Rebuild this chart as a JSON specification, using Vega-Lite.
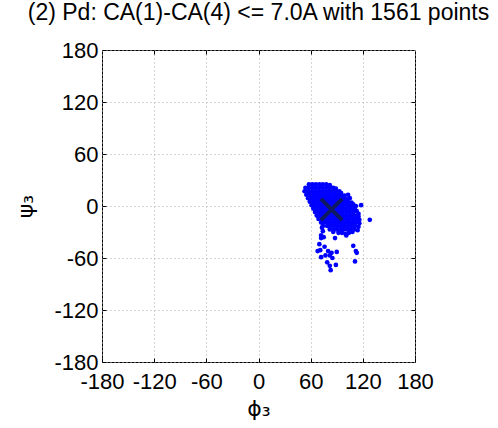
{
  "$schema": "https://vega.github.io/schema/vega-lite/v6.json",
  "width": 313,
  "height": 312,
  "autosize": "none",
  "padding": {"left": 102, "top": 50, "right": 83, "bottom": 66},
  "title": {
    "text": "(2) Pd: CA(1)-CA(4) <= 7.0A with 1561 points",
    "font": "Liberation Sans",
    "fontSize": 23,
    "fontWeight": "normal",
    "color": "black",
    "anchor": "middle",
    "baseline": "alphabetic",
    "offset": -4
  },
  "config": {
    "view": {"stroke": "black", "strokeWidth": 1},
    "font": "Liberation Sans",
    "axis": {
      "domain": false,
      "grid": true,
      "gridColor": "#aaaaaa",
      "gridDash": [1, 3],
      "gridWidth": 1,
      "tickColor": "black",
      "tickSize": -4,
      "tickWidth": 1,
      "labelFont": "Liberation Sans",
      "labelFontSize": 22,
      "labelColor": "black",
      "labelExpr": "'' + datum.value",
      "titleFont": "DejaVu Sans",
      "titleFontSize": 22,
      "titleFontWeight": "normal",
      "titleColor": "black"
    }
  },
  "layer": [
    {
      "data": {
        "values": [
          {"phi":58,"psi":25},{"phi":62,"psi":25},{"phi":66,"psi":25},{"phi":70,"psi":25},{"phi":74,"psi":25},{"phi":78,"psi":25},{"phi":82,"psi":24},
          {"phi":54,"psi":21},{"phi":58,"psi":21},{"phi":62,"psi":21},{"phi":66,"psi":21},{"phi":70,"psi":21},{"phi":74,"psi":21},{"phi":78,"psi":21},{"phi":82,"psi":21},{"phi":86,"psi":21},{"phi":89,"psi":20},
          {"phi":53,"psi":17},{"phi":57,"psi":17},{"phi":61,"psi":17},{"phi":65,"psi":17},{"phi":69,"psi":17},{"phi":73,"psi":17},{"phi":77,"psi":17},{"phi":81,"psi":17},{"phi":85,"psi":17},{"phi":89,"psi":17},{"phi":93,"psi":17},{"phi":95,"psi":15},
          {"phi":55,"psi":13},{"phi":59,"psi":13},{"phi":63,"psi":13},{"phi":67,"psi":13},{"phi":71,"psi":13},{"phi":75,"psi":13},{"phi":79,"psi":13},{"phi":83,"psi":13},{"phi":87,"psi":13},{"phi":91,"psi":13},{"phi":95,"psi":13},{"phi":99,"psi":12},{"phi":103,"psi":13},
          {"phi":57,"psi":9},{"phi":61,"psi":9},{"phi":65,"psi":9},{"phi":69,"psi":9},{"phi":73,"psi":9},{"phi":77,"psi":9},{"phi":81,"psi":9},{"phi":85,"psi":9},{"phi":89,"psi":9},{"phi":93,"psi":9},{"phi":97,"psi":9},{"phi":101,"psi":8},{"phi":105,"psi":9},
          {"phi":59,"psi":5},{"phi":63,"psi":5},{"phi":67,"psi":5},{"phi":71,"psi":5},{"phi":75,"psi":5},{"phi":79,"psi":5},{"phi":83,"psi":5},{"phi":87,"psi":5},{"phi":91,"psi":5},{"phi":95,"psi":5},{"phi":99,"psi":5},{"phi":103,"psi":5},{"phi":107,"psi":4},{"phi":109,"psi":2},
          {"phi":61,"psi":1},{"phi":65,"psi":1},{"phi":69,"psi":1},{"phi":73,"psi":1},{"phi":77,"psi":1},{"phi":81,"psi":1},{"phi":85,"psi":1},{"phi":89,"psi":1},{"phi":93,"psi":1},{"phi":97,"psi":1},{"phi":101,"psi":1},{"phi":105,"psi":1},{"phi":109,"psi":-1},{"phi":112,"psi":0},{"phi":118,"psi":1},
          {"phi":63,"psi":-3},{"phi":67,"psi":-3},{"phi":71,"psi":-3},{"phi":75,"psi":-3},{"phi":79,"psi":-3},{"phi":83,"psi":-3},{"phi":87,"psi":-3},{"phi":91,"psi":-3},{"phi":95,"psi":-3},{"phi":99,"psi":-3},{"phi":103,"psi":-3},{"phi":107,"psi":-3},{"phi":111,"psi":-4},
          {"phi":65,"psi":-7},{"phi":69,"psi":-7},{"phi":73,"psi":-7},{"phi":77,"psi":-7},{"phi":81,"psi":-7},{"phi":85,"psi":-7},{"phi":89,"psi":-7},{"phi":93,"psi":-7},{"phi":97,"psi":-7},{"phi":101,"psi":-7},{"phi":105,"psi":-7},{"phi":109,"psi":-7},{"phi":113,"psi":-6},{"phi":115,"psi":-9},
          {"phi":67,"psi":-11},{"phi":71,"psi":-11},{"phi":75,"psi":-11},{"phi":79,"psi":-11},{"phi":83,"psi":-11},{"phi":87,"psi":-11},{"phi":91,"psi":-11},{"phi":95,"psi":-11},{"phi":99,"psi":-11},{"phi":103,"psi":-11},{"phi":107,"psi":-11},{"phi":111,"psi":-11},{"phi":115,"psi":-12},
          {"phi":69,"psi":-15},{"phi":73,"psi":-15},{"phi":77,"psi":-15},{"phi":81,"psi":-15},{"phi":85,"psi":-15},{"phi":89,"psi":-15},{"phi":93,"psi":-15},{"phi":97,"psi":-15},{"phi":101,"psi":-15},{"phi":105,"psi":-15},{"phi":109,"psi":-15},{"phi":113,"psi":-15},{"phi":116,"psi":-16},{"phi":128,"psi":-16},
          {"phi":72,"psi":-19},{"phi":76,"psi":-19},{"phi":80,"psi":-19},{"phi":84,"psi":-19},{"phi":88,"psi":-19},{"phi":92,"psi":-19},{"phi":96,"psi":-19},{"phi":100,"psi":-19},{"phi":104,"psi":-19},{"phi":108,"psi":-19},{"phi":112,"psi":-19},{"phi":116,"psi":-20},
          {"phi":74,"psi":-23},{"phi":79,"psi":-23},{"phi":83,"psi":-23},{"phi":87,"psi":-23},{"phi":91,"psi":-23},{"phi":95,"psi":-23},{"phi":99,"psi":-23},{"phi":103,"psi":-23},{"phi":107,"psi":-23},{"phi":111,"psi":-23},{"phi":115,"psi":-24},
          {"phi":82,"psi":-27},{"phi":86,"psi":-27},{"phi":90,"psi":-27},{"phi":94,"psi":-27},{"phi":98,"psi":-27},{"phi":102,"psi":-27},{"phi":106,"psi":-27},{"phi":110,"psi":-27},{"phi":114,"psi":-28},
          {"phi":92,"psi":-31},{"phi":96,"psi":-31},{"phi":100,"psi":-32},{"phi":104,"psi":-31},{"phi":108,"psi":-30},
          {"phi":73,"psi":-25},{"phi":74,"psi":-29},{"phi":72,"psi":-34},{"phi":86,"psi":-30},{"phi":88,"psi":-37},{"phi":101,"psi":-34},
          {"phi":72,"psi":-37},{"phi":75,"psi":-36},{"phi":70,"psi":-44},{"phi":76,"psi":-47},{"phi":68,"psi":-52},{"phi":71,"psi":-51},
          {"phi":80,"psi":-52},{"phi":84,"psi":-54},{"phi":90,"psi":-53},{"phi":72,"psi":-59},{"phi":77,"psi":-57},{"phi":82,"psi":-57},
          {"phi":85,"psi":-60},{"phi":79,"psi":-65},{"phi":82,"psi":-69},{"phi":89,"psi":-68},{"phi":83,"psi":-74},
          {"phi":109,"psi":-46},{"phi":112,"psi":-52},{"phi":113,"psi":-54},{"phi":111,"psi":-64}
        ]
      },
      "mark": {"type": "point", "filled": true, "size": 22, "color": "#0000ff", "opacity": 1},
      "encoding": {
        "x": {"field": "phi", "type": "quantitative", "scale": {"domain": [-180, 180], "nice": false},
              "axis": {"values": [-180, -120, -60, 0, 60, 120, 180], "title": "ϕ₃", "labelPadding": 13, "titlePadding": 6, "labelFlush": false}},
        "y": {"field": "psi", "type": "quantitative", "scale": {"domain": [-180, 180], "nice": false},
              "axis": {"values": [-180, -120, -60, 0, 60, 120, 180], "title": "ψ₃", "titleAngle": -90, "labelPadding": 8, "titlePadding": 16, "labelFlush": false}}
      }
    },
    {
      "data": {"values": [{"phi": 84, "psi": -4}]},
      "mark": {"type": "point", "shape": "M-1,-1L1,1M1,-1L-1,1", "filled": false, "size": 450, "strokeWidth": 4, "color": "#0f1a63", "opacity": 1},
      "encoding": {
        "x": {"field": "phi", "type": "quantitative", "scale": {"domain": [-180, 180], "nice": false},
              "axis": {"orient": "top", "values": [-120, -60, 0, 60, 120], "labels": false, "title": null, "grid": false}},
        "y": {"field": "psi", "type": "quantitative", "scale": {"domain": [-180, 180], "nice": false},
              "axis": {"orient": "right", "values": [-120, -60, 0, 60, 120], "labels": false, "title": null, "grid": false}}
      }
    }
  ],
  "resolve": {"axis": {"x": "independent", "y": "independent"}}
}
